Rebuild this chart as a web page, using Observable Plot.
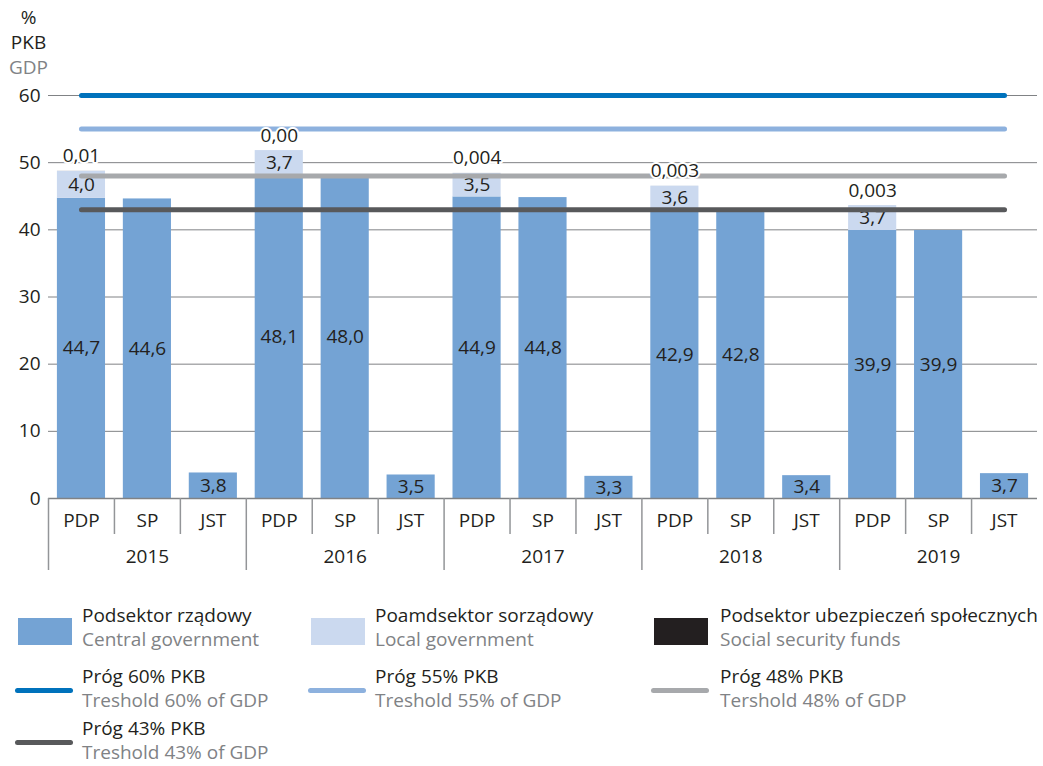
<!DOCTYPE html>
<html><head><meta charset="utf-8">
<script src="https://cdn.jsdelivr.net/npm/d3@7"></script>
<script src="https://cdn.jsdelivr.net/npm/@observablehq/plot@0.6"></script>
<style>
body{margin:0;background:#fff;font-family:"Open Sans",sans-serif;}
#wrap{position:relative;width:1043px;height:766px;overflow:hidden;background:#fff}
#wrap svg{position:absolute;left:0;top:0}
.lg{position:absolute;font-size:19px;line-height:18px;white-space:nowrap;color:#231f20}
.lg.sub{color:#808285}
.sw{position:absolute}
</style></head><body><div id="wrap"></div>
<script>
// ---- data ----
const years = [2015, 2016, 2017, 2018, 2019];
const subs = ["PDP", "SP", "JST"];
const centralPDP = [44.7, 48.1, 44.9, 42.9, 39.9];
const localPDP = [4.0, 3.7, 3.5, 3.6, 3.7];
const socialPDP = [0.01, 0.00, 0.004, 0.003, 0.003];
const socialLabels = ["0,01", "0,00", "0,004", "0,003", "0,003"];
const centralSP = [44.6, 48.0, 44.8, 42.8, 39.9];
const centralJST = [3.8, 3.5, 3.3, 3.4, 3.7];
const thresholds = [60, 55, 48, 43];
const thresholdColors = ["#0072bc", "#8db1de", "#a7a9ac", "#58595b"];
const yTicks = [0, 10, 20, 30, 40, 50, 60];
const axisTitle = ["%", "PKB", "GDP"];
const seriesNames = ["central", "local", "social"];
const seriesColors = ["#74a3d4", "#cbd9ef", "#231f20"];
const legendTitles = ["Podsektor rządowy", "Poamdsektor sorządowy", "Podsektor ubezpieczeń społecznych"];
const legendSubs = ["Central government", "Local government", "Social security funds"];
const thresholdTitles = ["Próg 60% PKB", "Próg 55% PKB", "Próg 48% PKB", "Próg 43% PKB"];
const thresholdSubs = ["Treshold 60% of GDP", "Treshold 55% of GDP", "Tershold 48% of GDP", "Treshold 43% of GDP"];

// ---- build table ----
const fmt = v => d3.format(".1f")(v).replace(".", ",");
const rows = [];
years.forEach((y, i) => {
  rows.push({key: y + "|PDP", series: "central", value: centralPDP[i], label: fmt(centralPDP[i])});
  rows.push({key: y + "|PDP", series: "local", value: localPDP[i], label: fmt(localPDP[i])});
  rows.push({key: y + "|PDP", series: "social", value: socialPDP[i], label: socialLabels[i]});
  rows.push({key: y + "|SP", series: "central", value: centralSP[i], label: fmt(centralSP[i])});
  rows.push({key: y + "|JST", series: "central", value: centralJST[i], label: fmt(centralJST[i])});
});
const keys = years.flatMap(y => subs.map(s => y + "|" + s));

const W = 1043, H = 590, ML = 48, MR = 6, MT = 95, MB = 92;
const plotH = H - MT - MB;
const step = (W - ML - MR) / keys.length;
const ink = "#231f20", gray = "#808285";
const FS = 19;

const thresholdLines = thresholds.map((t, i) =>
  Plot.line([{k: keys[0], v: t}, {k: keys[keys.length - 1], v: t}],
    {x: "k", y: "v", stroke: thresholdColors[i], strokeWidth: 5, strokeLinecap: "round"}));

const chart = Plot.plot({
  width: W, height: H, marginLeft: ML, marginRight: MR, marginTop: MT, marginBottom: MB,
  style: {fontFamily: "Open Sans", fontSize: FS + "px", color: ink, background: "white", overflow: "visible"},
  x: {type: "band", domain: keys, paddingInner: 0.27, paddingOuter: 0.135, round: false, axis: null},
  y: {domain: [0, 60], axis: null, label: null},
  color: {domain: seriesNames, range: seriesColors},
  marks: [
    Plot.ruleY(yTicks.filter(t => t > 0), {stroke: gray, strokeWidth: 1}),
    Plot.axisY({ticks: yTicks, tickSize: 0, tickPadding: 8, fontSize: FS, label: null, fill: ink}),
    Plot.barY(rows, {x: "key", y: "value", fill: "series"}),
    Plot.ruleY([0], {stroke: gray, strokeWidth: 1.5}),
    Plot.ruleX(keys.filter(k => !k.endsWith("PDP")), {x: d => d, dx: -step / 2, insetTop: plotH, insetBottom: -36, stroke: "#939598", strokeWidth: 1.5}),
    Plot.ruleX(keys.filter(k => k.endsWith("PDP")), {x: d => d, dx: -step / 2, insetTop: plotH, insetBottom: -72, stroke: "#939598", strokeWidth: 1.5}),
    Plot.text(keys, {x: d => d, text: d => d.split("|")[1], frameAnchor: "bottom", dy: 28, fill: ink, fontSize: FS}),
    Plot.text(years, {x: y => y + "|SP", text: y => String(y), frameAnchor: "bottom", dy: 64, fill: ink, fontSize: FS}),
    Plot.text(rows, Plot.stackY({x: "key", y: "value", z: "series", text: d => d.series !== "social" ? d.label : null, fill: ink, fontSize: FS})),
    ...thresholdLines,
    Plot.text(rows, Plot.stackY2({x: "key", y: "value", z: "series", text: d => d.series === "social" ? d.label : null, lineAnchor: "bottom", dy: -9, fill: ink, stroke: "white", strokeWidth: 4, fontSize: FS})),
    Plot.text([axisTitle[0]], {frameAnchor: "top-left", textAnchor: "middle", lineAnchor: "middle", dx: -20, dy: -78, text: d => d, fill: ink, fontSize: FS}),
    Plot.text([axisTitle[1]], {frameAnchor: "top-left", textAnchor: "middle", lineAnchor: "middle", dx: -20, dy: -53, text: d => d, fill: ink, fontSize: FS}),
    Plot.text([axisTitle[2]], {frameAnchor: "top-left", textAnchor: "middle", lineAnchor: "middle", dx: -20, dy: -28, text: d => d, fill: gray, fontSize: FS})
  ]
});
const wrap = document.getElementById("wrap");
wrap.appendChild(chart);

// ---- legend ----
function addText(txt, x, cy, cls) {
  const d = document.createElement("div");
  d.className = "lg" + (cls ? " " + cls : "");
  d.textContent = txt;
  d.style.left = x + "px";
  d.style.top = (cy - 9) + "px";
  wrap.appendChild(d);
}
function addBox(x, y, w, h, color, radius) {
  const d = document.createElement("div");
  d.className = "sw";
  Object.assign(d.style, {left: x + "px", top: y + "px", width: w + "px", height: h + "px", background: color, borderRadius: (radius || 0) + "px"});
  wrap.appendChild(d);
}
const colSw = [18, 311, 654], colTx = [82, 375, 720];
seriesNames.forEach((s, i) => {
  addBox(colSw[i], 618, 54, 27, seriesColors[i]);
  addText(legendTitles[i], colTx[i], 615, "");
  addText(legendSubs[i], colTx[i], 639, "sub");
});
thresholds.forEach((t, i) => {
  const col = i % 3, row = Math.floor(i / 3);
  const ly = row === 0 ? 690 : 742;
  addBox(colSw[col] - 3, ly - 2.5, 58, 5, thresholdColors[i], 3);
  addText(thresholdTitles[i], colTx[col], ly - 14, "");
  addText(thresholdSubs[i], colTx[col], ly + 10, "sub");
});
</script></body></html>
